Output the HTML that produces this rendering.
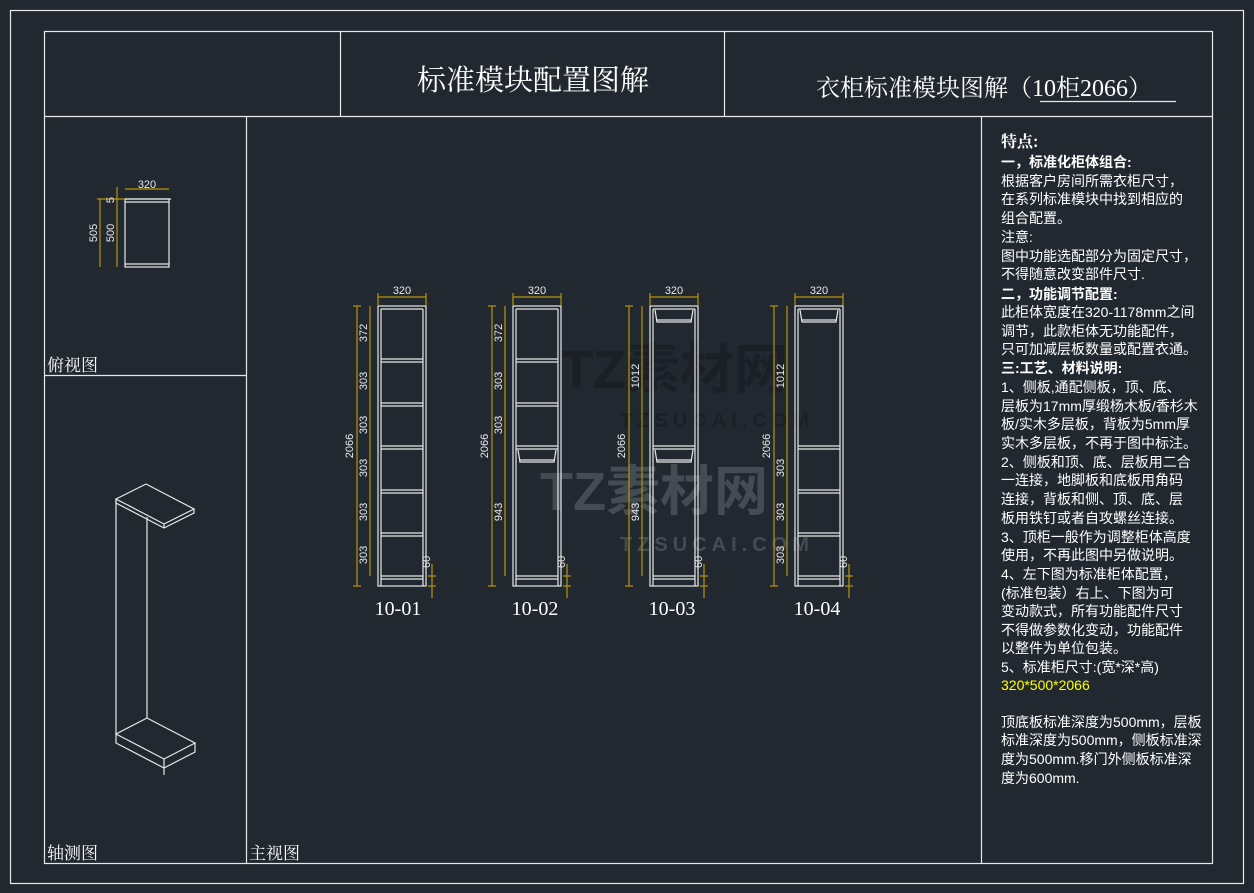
<!DOCTYPE html>
<html><head><meta charset="utf-8"><style>
html,body{margin:0;padding:0;background:#212830;}
svg{display:block}
text{font-family:"Liberation Sans","Noto Sans CJK SC",sans-serif;fill:#fff}
.w{stroke:#e8e8e8;fill:none;stroke-width:1.2}
.y{stroke:#b8920a;fill:none;stroke-width:1.2}
.yt{fill:#e8e8e8;font-size:11px}
.lbl{font-family:"Liberation Serif","Noto Serif CJK SC",serif;font-size:20px;fill:#fff}
.t{font-size:14px;fill:#fff}
.b{font-size:14px;font-weight:bold;fill:#fff}
</style></head><body>
<svg width="1254" height="893" viewBox="0 0 1254 893" xmlns="http://www.w3.org/2000/svg">
<defs>
<g id="cab">
 <rect class="w" x="0" y="0" width="48" height="280"/>
 <line class="w" x1="3" y1="3" x2="3" y2="280"/>
 <line class="w" x1="45" y1="3" x2="45" y2="280"/>
 <line class="w" x1="3" y1="3" x2="45" y2="3"/>
 <line class="w" x1="3" y1="270" x2="45" y2="270"/>
 <line class="w" x1="3" y1="273" x2="45" y2="273"/>
 <line class="y" x1="0" y1="-9" x2="48" y2="-9"/>
 <line class="y" x1="0" y1="-13" x2="0" y2="-1"/><line class="y" x1="48" y1="-13" x2="48" y2="-1"/>
 <text class="yt" x="24" y="-12" text-anchor="middle">320</text>
 <line class="y" x1="-21" y1="0" x2="-21" y2="280"/>
 <line class="y" x1="-25" y1="0" x2="-17" y2="0"/><line class="y" x1="-25" y1="280" x2="-17" y2="280"/>
 <text class="yt" transform="translate(-25,140) rotate(-90)" text-anchor="middle">2066</text>
 <line class="y" x1="-8" y1="0" x2="-8" y2="270"/>
 <line class="y" x1="54" y1="258" x2="54" y2="292"/>
 <line class="y" x1="50" y1="270" x2="58" y2="270"/><line class="y" x1="50" y1="280" x2="58" y2="280"/>
 <text class="yt" transform="translate(52,262) rotate(-90)" text-anchor="start">60</text>
</g>
<g id="sh"><line class="w" x1="3" y1="0" x2="45" y2="0"/><line class="w" x1="3" y1="3" x2="45" y2="3"/></g>
<g id="rod"><path class="w" d="M5,4 L7,16 L41,16 L43,4 M7,14 L41,14"/></g>
</defs>

<rect x="10.5" y="10.5" width="1233" height="873" fill="none" stroke="#e8e8e8" stroke-width="1.2"/>
<rect x="44.5" y="31.5" width="1168" height="832" fill="none" stroke="#e8e8e8" stroke-width="1.2"/>
<line class="w" x1="44" y1="116.5" x2="1212" y2="116.5"/>
<line class="w" x1="340.5" y1="31" x2="340.5" y2="116"/>
<line class="w" x1="724.5" y1="31" x2="724.5" y2="116"/>
<line class="w" x1="246.5" y1="116" x2="246.5" y2="863"/>
<line class="w" x1="44" y1="375.5" x2="246" y2="375.5"/>
<line class="w" x1="981.5" y1="116" x2="981.5" y2="863"/>

<text x="533" y="90" text-anchor="middle" style="font-family:'Liberation Serif','Noto Serif CJK SC',serif;font-size:29px">标准模块配置图解</text>
<text x="816" y="96" style="font-family:'Liberation Serif','Noto Serif CJK SC',serif;font-size:24px">衣柜标准模块图解（10柜2066）</text>
<line class="w" x1="1040" y1="101.5" x2="1176" y2="101.5"/>

<text x="47" y="371" style="font-family:'Noto Serif CJK SC',serif;font-size:17px">俯视图</text>
<text x="47" y="859" style="font-family:'Noto Serif CJK SC',serif;font-size:17px">轴测图</text>
<text x="249" y="859" style="font-family:'Noto Serif CJK SC',serif;font-size:17px">主视图</text>

<!-- top view -->
<rect class="w" x="125" y="199" width="44" height="68"/>
<line class="w" x1="125" y1="202" x2="169" y2="202"/>
<line class="w" x1="125" y1="264" x2="169" y2="264"/>
<line class="w" x1="124" y1="199" x2="171" y2="199"/>
<line class="y" x1="125" y1="189" x2="169" y2="189"/>
<text class="yt" x="147" y="188" text-anchor="middle">320</text>
<line class="y" x1="100" y1="199" x2="100" y2="267"/><line class="y" x1="117" y1="187" x2="117" y2="267"/>
<line class="y" x1="97" y1="199" x2="125" y2="199"/>
<text class="yt" transform="translate(97,233) rotate(-90)" text-anchor="middle">505</text>
<text class="yt" transform="translate(114,233) rotate(-90)" text-anchor="middle">500</text>
<text class="yt" transform="translate(114,200) rotate(-90)" text-anchor="middle">5</text>

<!-- isometric -->
<g class="w" stroke-width="1">
<path d="M116,499 L146,484 L194,509 L164,524 Z"/>
<path d="M116,499 L116,503 L164,528 L194,513 L194,509"/>
<path d="M164,524 L164,528"/>
<path d="M116,499 L116,734 M147,517 L147,718"/>
<path d="M116,734 L147,718 L195,743 L164,759 Z"/>
<path d="M116,734 L116,743 L164,768 M164,759 L164,775 M195,743 L195,752 L164,768"/>
</g>

<!-- watermark -->
<g opacity="0.35" font-weight="bold">
<text x="560" y="388" style="font-size:54px;fill:#0e1216">TZ素材网</text>
<text x="620" y="427" style="font-size:20px;fill:#0e1216;letter-spacing:5px">TZSUCAI.COM</text>
<text x="540" y="510" style="font-size:54px;fill:#8a8e92">TZ素材网</text>
<text x="620" y="551" style="font-size:20px;fill:#8a8e92;letter-spacing:5px">TZSUCAI.COM</text>
</g>

<!-- cabinets -->
<g transform="translate(378,306)"><use href="#cab"/>
 <use href="#sh" y="53"/><use href="#sh" y="97"/><use href="#sh" y="140"/><use href="#sh" y="184"/><use href="#sh" y="227"/>
 <text class="yt" transform="translate(-11,27) rotate(-90)" text-anchor="middle">372</text>
 <text class="yt" transform="translate(-11,75) rotate(-90)" text-anchor="middle">303</text>
 <text class="yt" transform="translate(-11,119) rotate(-90)" text-anchor="middle">303</text>
 <text class="yt" transform="translate(-11,162) rotate(-90)" text-anchor="middle">303</text>
 <text class="yt" transform="translate(-11,206) rotate(-90)" text-anchor="middle">303</text>
 <text class="yt" transform="translate(-11,249) rotate(-90)" text-anchor="middle">303</text>
 <text class="lbl" x="20" y="309" text-anchor="middle">10-01</text>
</g>
<g transform="translate(513,306)"><use href="#cab"/>
 <use href="#sh" y="53"/><use href="#sh" y="97"/><use href="#sh" y="140"/><use href="#rod" y="140"/>
 <text class="yt" transform="translate(-11,27) rotate(-90)" text-anchor="middle">372</text>
 <text class="yt" transform="translate(-11,75) rotate(-90)" text-anchor="middle">303</text>
 <text class="yt" transform="translate(-11,119) rotate(-90)" text-anchor="middle">303</text>
 <text class="yt" transform="translate(-11,206) rotate(-90)" text-anchor="middle">943</text>
 <text class="lbl" x="22" y="309" text-anchor="middle">10-02</text>
</g>
<g transform="translate(650,306)"><use href="#cab"/>
 <use href="#rod" y="0"/><use href="#sh" y="140"/><use href="#rod" y="140"/>
 <text class="yt" transform="translate(-11,70) rotate(-90)" text-anchor="middle">1012</text>
 <text class="yt" transform="translate(-11,206) rotate(-90)" text-anchor="middle">943</text>
 <text class="lbl" x="22" y="309" text-anchor="middle">10-03</text>
</g>
<g transform="translate(795,306)"><use href="#cab"/>
 <use href="#rod" y="0"/><use href="#sh" y="140"/><use href="#sh" y="184"/><use href="#sh" y="227"/>
 <text class="yt" transform="translate(-11,70) rotate(-90)" text-anchor="middle">1012</text>
 <text class="yt" transform="translate(-11,162) rotate(-90)" text-anchor="middle">303</text>
 <text class="yt" transform="translate(-11,206) rotate(-90)" text-anchor="middle">303</text>
 <text class="yt" transform="translate(-11,249) rotate(-90)" text-anchor="middle">303</text>
 <text class="lbl" x="22" y="309" text-anchor="middle">10-04</text>
</g>

<!-- notes -->
<text x="1001" y="147" style="font-family:'Noto Serif CJK SC',serif;font-size:16px;font-weight:bold">特点:</text>
<text class="b" x="1001" y="167">一，标准化柜体组合:</text>
<text class="t" x="1001" y="186">根据客户房间所需衣柜尺寸，</text>
<text class="t" x="1001" y="204">在系列标准模块中找到相应的</text>
<text class="t" x="1001" y="223">组合配置。</text>
<text class="t" x="1001" y="242">注意:</text>
<text class="t" x="1001" y="261">图中功能选配部分为固定尺寸，</text>
<text class="t" x="1001" y="279">不得随意改变部件尺寸.</text>
<text class="b" x="1001" y="299">二，功能调节配置:</text>
<text class="t" x="1001" y="317">此柜体宽度在320-1178mm之间</text>
<text class="t" x="1001" y="336">调节，此款柜体无功能配件，</text>
<text class="t" x="1001" y="354">只可加减层板数量或配置衣通。</text>
<text class="b" x="1001" y="373">三:工艺、材料说明:</text>
<text class="t" x="1001" y="392">1、侧板,通配侧板，顶、底、</text>
<text class="t" x="1001" y="411">层板为17mm厚缎杨木板/香杉木</text>
<text class="t" x="1001" y="429">板/实木多层板，背板为5mm厚</text>
<text class="t" x="1001" y="448">实木多层板，不再于图中标注。</text>
<text class="t" x="1001" y="467">2、侧板和顶、底、层板用二合</text>
<text class="t" x="1001" y="485">一连接，地脚板和底板用角码</text>
<text class="t" x="1001" y="504">连接，背板和侧、顶、底、层</text>
<text class="t" x="1001" y="523">板用铁钉或者自攻螺丝连接。</text>
<text class="t" x="1001" y="542">3、顶柜一般作为调整柜体高度</text>
<text class="t" x="1001" y="560">使用，不再此图中另做说明。</text>
<text class="t" x="1001" y="579">4、左下图为标准柜体配置，</text>
<text class="t" x="1001" y="598">(标准包装）右上、下图为可</text>
<text class="t" x="1001" y="616">变动款式，所有功能配件尺寸</text>
<text class="t" x="1001" y="635">不得做参数化变动，功能配件</text>
<text class="t" x="1001" y="653">以整件为单位包装。</text>
<text class="t" x="1001" y="672">5、标准柜尺寸:(宽*深*高)</text>
<text class="t" x="1001" y="690" style="fill:#ffff00">320*500*2066</text>
<text class="t" x="1001" y="727">顶底板标准深度为500mm，层板</text>
<text class="t" x="1001" y="745">标准深度为500mm，侧板标准深</text>
<text class="t" x="1001" y="764">度为500mm.移门外侧板标准深</text>
<text class="t" x="1001" y="783">度为600mm.</text>
</svg>
</body></html>
